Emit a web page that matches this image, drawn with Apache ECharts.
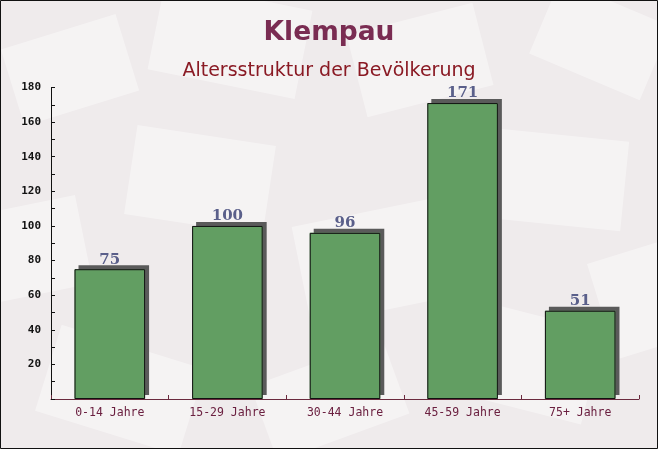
<!DOCTYPE html>
<html><head><meta charset="utf-8">
<script src="https://cdn.jsdelivr.net/npm/echarts@6/dist/echarts.min.js"></script>
<style>html,body{margin:0;padding:0;background:#f1eded;}#c{width:658px;height:449px;}</style>
</head><body><div id="c"></div>
<script>
const categories = ['0-14 Jahre','15-29 Jahre','30-44 Jahre','45-59 Jahre','75+ Jahre'];
const values = [75, 100, 96, 171, 51];
const yTickLabels = ['20','40','60','80','100','120','140','160','180'];

const chart = echarts.init(document.getElementById('c'), null, {renderer:'canvas'});
const env = (x,y,w,h,r)=>({type:'rect',shape:{x:-w/2,y:-h/2,width:w,height:h},x:x,y:y,rotation:r,style:{fill:'rgba(255,255,255,0.4)'},z:-10,silent:true});
chart.setOption({
  backgroundColor:'#efebec',
  animation:false,
  graphic:[
    env(70,70,120,80,0.3), env(230,40,150,90,-0.2), env(420,60,130,85,0.25), env(600,40,120,80,-0.4),
    env(30,250,110,90,0.2), env(200,180,140,90,-0.15), env(380,260,160,100,0.2), env(560,180,130,90,-0.1),
    env(120,390,150,90,-0.3), env(330,400,140,80,0.35), env(520,360,150,95,-0.25), env(640,300,80,100,0.3),
    {type:'rect',shape:{x:0.5,y:0.5,width:657,height:448},style:{fill:'none',stroke:'#111',lineWidth:1},z:100,silent:true}
  ],
  title:[
    {text:'Klempau',left:'center',top:15,textStyle:{fontFamily:'DejaVu Sans',fontWeight:'bold',fontSize:26.5,color:'#7a2c52'}},
    {text:'Altersstruktur der Bevölkerung',left:'center',top:57,textStyle:{fontFamily:'DejaVu Sans',fontWeight:'normal',fontSize:19,color:'#8a1a24'}}
  ],
  grid:{left:51,right:19,top:87.5,bottom:50,containLabel:false},
  xAxis:{
    type:'category',data:categories,
    axisLine:{lineStyle:{color:'#6b2a3e',width:1}},
    axisTick:{show:true,inside:true,length:4,alignWithLabel:false,lineStyle:{color:'#6b2a3e'}},
    axisLabel:{fontFamily:'DejaVu Sans Mono',fontSize:11.5,color:'#6b2040',margin:8}
  },
  yAxis:{
    type:'value',min:0,max:180,interval:10,
    splitLine:{show:false},
    axisLine:{show:true,lineStyle:{color:'#111',width:1}},
    axisTick:{show:true,inside:true,length:4,lineStyle:{color:'#111'}},
    axisLabel:{fontFamily:'DejaVu Sans Mono',fontWeight:'bold',fontSize:11,color:'#111',margin:10,
      formatter:function(v){return yTickLabels.indexOf(String(v))>=0?String(v):'';}}
  },
  series:[{
    type:'bar',data:values,barWidth:'60%',
    itemStyle:{color:'#629e62',borderWidth:0,
      shadowColor:'#5a5a5a',shadowOffsetX:4,shadowOffsetY:-4,shadowBlur:0}
  },{
    type:'bar',data:values,barWidth:'60%',barGap:'-100%',
    itemStyle:{color:'rgba(0,0,0,0)',borderColor:'#111',borderWidth:1},
    label:{show:true,position:'top',distance:2,fontFamily:'DejaVu Serif',fontWeight:'bold',fontSize:15,color:'#5a5f8a'}
  }]
});
</script></body></html>
